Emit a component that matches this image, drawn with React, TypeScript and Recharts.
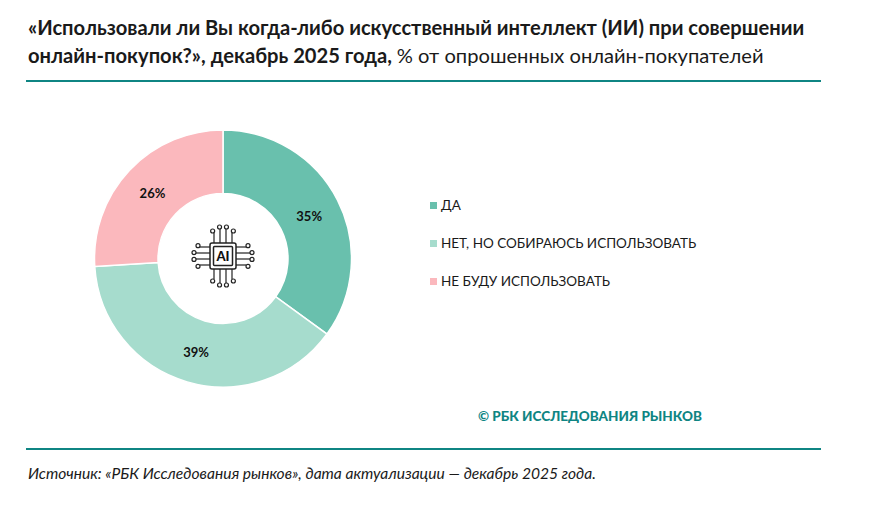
import React from "react";
import { PieChart, Pie, Cell, Legend } from "recharts";

const categories = ["ДА", "НЕТ, НО СОБИРАЮСЬ ИСПОЛЬЗОВАТЬ", "НЕ БУДУ ИСПОЛЬЗОВАТЬ"];
const shares = [35, 39, 26];
const colors = ["#69c0ad", "#a6dccd", "#fbb8bd"];

const data = categories.map((name, i) => ({ name, value: shares[i] }));

const FONT = "Lato, 'Open Sans', sans-serif";
const TEAL = "#0f8583";

const RADIAN = Math.PI / 180;

const renderLabel = (p: any) => {
  const r = (p.innerRadius + p.outerRadius) / 2;
  const x = p.cx + r * Math.cos(-p.midAngle * RADIAN);
  const y = p.cy + r * Math.sin(-p.midAngle * RADIAN) + 1;
  return (
    <text x={x} y={y} textAnchor="middle" dominantBaseline="central" fontFamily={FONT} fontSize={13} fontWeight={700} fill="#111">
      {p.value}%
    </text>
  );
};

const renderLegend = () => (
  <div style={{ fontFamily: FONT, fontSize: 13.5, color: "#1a1a1a" }}>
    {data.map((d, i) => (
      <div key={d.name} style={{ display: "flex", alignItems: "center", height: 38, whiteSpace: "nowrap" }}>
        <span style={{ width: 7, height: 7, background: colors[i], marginRight: 4 }} />
        {d.name}
      </div>
    ))}
  </div>
);

// значок процессора в центре кольца
const ChipIcon = () => {
  const cx = 223;
  const cy = 256;
  const offs = [-9, -3, 3, 9];
  const lens = [25, 29, 29, 25];
  return (
    <g stroke="#222" fill="none" strokeWidth={1.2}>
      {offs.map((o, i) => (
        <g key={i}>
          <line x1={cx + o} y1={cy - 12} x2={cx + o} y2={cy - lens[i] + 2} />
          <circle cx={cx + o * 1.15} cy={cy - lens[i]} r={2} />
          <line x1={cx + o} y1={cy + 12} x2={cx + o} y2={cy + lens[i] - 2} />
          <circle cx={cx + o * 1.15} cy={cy + lens[i]} r={2} />
          <line x1={cx - 12} y1={cy + o} x2={cx - lens[i] + 2} y2={cy + o} />
          <circle cx={cx - lens[i]} cy={cy + o * 1.15} r={2} />
          <line x1={cx + 12} y1={cy + o} x2={cx + lens[i] - 2} y2={cy + o} />
          <circle cx={cx + lens[i]} cy={cy + o * 1.15} r={2} />
        </g>
      ))}
      <rect x={cx - 13} y={cy - 13} width={26} height={26} rx={2} fill="#fff" strokeWidth={1.5} />
      <rect x={cx - 9.5} y={cy - 9.5} width={19} height={19} rx={1} fill="#fff" strokeWidth={1.5} />
      <text x={cx} y={cy + 4.5} textAnchor="middle" fontFamily={FONT} fontSize={13} fontWeight={900} fill="#111" stroke="none">
        AI
      </text>
    </g>
  );
};

const textBase: React.CSSProperties = { position: "absolute", fontFamily: FONT, color: "#1a1a1a", whiteSpace: "nowrap" };

export default function App() {
  return (
    <div style={{ position: "absolute", left: 0, top: 0, width: 870, height: 516, background: "#fff", overflow: "hidden" }}>
      <div style={{ ...textBase, left: 28, top: 13, fontSize: 20.15, fontWeight: 700, lineHeight: "28px" }}>
        «Использовали ли Вы когда-либо искусственный интеллект (ИИ) при совершении
        <br />
        онлайн-покупок?», декабрь 2025 года, <span style={{ fontWeight: 400 }}>% от опрошенных онлайн-покупателей</span>
      </div>
      <div style={{ position: "absolute", left: 26, top: 80, width: 795, height: 2, background: TEAL }} />

      <PieChart
        width={870}
        height={516}
        margin={{ top: 0, right: 0, bottom: 0, left: 0 }}
        style={{ position: "absolute", left: 0, top: 0 }}
      >
        <Pie
          data={data}
          dataKey="value"
          nameKey="name"
          cx={223}
          cy={258.5}
          innerRadius={65}
          outerRadius={128.5}
          startAngle={90}
          endAngle={-270}
          stroke="#fff"
          strokeWidth={1.5}
          label={renderLabel}
          labelLine={false}
          isAnimationActive={false}
        >
          {data.map((d, i) => (
            <Cell key={d.name} fill={colors[i]} />
          ))}
        </Pie>
        <ChipIcon />
        <Legend
          layout="vertical"
          align="right"
          verticalAlign="middle"
          content={renderLegend}
          wrapperStyle={{ left: 430, top: 186, right: "auto", width: 320 }}
        />
      </PieChart>

      <div style={{ ...textBase, left: 478, top: 408, fontSize: 13.5, fontWeight: 900, color: TEAL }}>
        © РБК ИССЛЕДОВАНИЯ РЫНКОВ
      </div>
      <div style={{ position: "absolute", left: 26, top: 448, width: 795, height: 2, background: TEAL }} />
      <div style={{ ...textBase, left: 28, top: 464, fontSize: 15.6, fontStyle: "italic" }}>
        Источник: «РБК Исследования рынков», дата актуализации — декабрь 2025 года.
      </div>
    </div>
  );
}
